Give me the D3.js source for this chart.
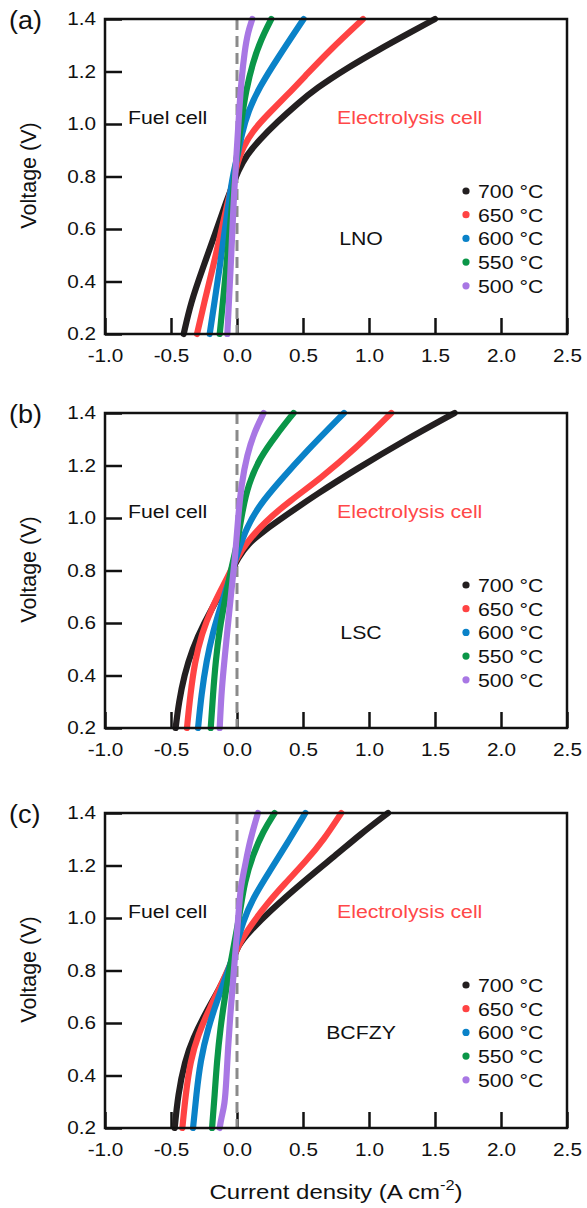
<!DOCTYPE html>
<html>
<head>
<meta charset="utf-8">
<script src="https://cdn.jsdelivr.net/npm/d3@7"></script>
<style>
  body { margin: 0; background: #fff; }
  text { font-family: "Liberation Sans", Arial, Helvetica, sans-serif; fill: #111; }
</style>
</head>
<body>
<svg id="chart" width="587" height="1208"></svg>
<script>
// Temperatures and their colours (legend order)
const temperatures = ["700 °C", "650 °C", "600 °C", "550 °C", "500 °C"];
const seriesColors = ["#231f20", "#ff4343", "#0a82c8", "#0a9648", "#a877e4"];

// Axis ticks
const xTicks = [-1.0, -0.5, 0.0, 0.5, 1.0, 1.5, 2.0, 2.5];
const yTicks = [0.2, 0.4, 0.6, 0.8, 1.0, 1.2, 1.4];

const panelLetters = ["(a)", "(b)", "(c)"];
const materials = ["LNO", "LSC", "BCFZY"];

// I–V curves: [current density (A cm^-2), voltage (V)]
// (a) LNO
const lno700 = [[-0.404,0.2],[-0.35,0.32],[-0.26,0.45],[-0.16,0.59],[-0.085,0.70],[-0.03,0.77],[0.008,0.82],[0.07,0.88],[0.17,0.94],[0.31,1.01],[0.455,1.076],[0.60,1.136],[0.83,1.212],[1.07,1.282],[1.325,1.352],[1.50,1.4]];
const lno650 = [[-0.303,0.2],[-0.245,0.327],[-0.182,0.454],[-0.119,0.594],[-0.068,0.708],[-0.03,0.784],[0.008,0.86],[0.045,0.911],[0.12,0.975],[0.24,1.04],[0.38,1.11],[0.53,1.19],[0.70,1.28],[0.955,1.4]];
const lno600 = [[-0.207,0.2],[-0.169,0.327],[-0.131,0.454],[-0.093,0.594],[-0.061,0.708],[-0.03,0.81],[0.008,0.886],[0.035,0.96],[0.085,1.05],[0.17,1.14],[0.30,1.245],[0.505,1.4]];
const lno550 = [[-0.131,0.2],[-0.106,0.327],[-0.081,0.454],[-0.056,0.594],[-0.035,0.708],[-0.015,0.822],[0.008,0.911],[0.033,1.013],[0.068,1.127],[0.12,1.235],[0.18,1.32],[0.26,1.4]];
const lno500 = [[-0.073,0.2],[-0.061,0.327],[-0.048,0.454],[-0.035,0.594],[-0.025,0.708],[-0.010,0.835],[0.003,0.937],[0.015,1.038],[0.033,1.165],[0.058,1.279],[0.083,1.35],[0.116,1.4]];
// (b) LSC
const lsc700 = [[-0.465,0.2],[-0.44,0.30],[-0.40,0.40],[-0.34,0.50],[-0.25,0.60],[-0.14,0.70],[-0.05,0.79],[0.01,0.85],[0.08,0.90],[0.20,0.95],[0.37,1.01],[0.60,1.09],[0.90,1.185],[1.25,1.29],[1.649,1.4]];
const lsc650 = [[-0.379,0.2],[-0.354,0.327],[-0.32,0.45],[-0.27,0.556],[-0.185,0.665],[-0.085,0.76],[-0.005,0.845],[0.07,0.905],[0.21,0.985],[0.40,1.065],[0.63,1.15],[0.90,1.265],[1.169,1.4]];
const lsc600 = [[-0.295,0.2],[-0.270,0.327],[-0.232,0.454],[-0.182,0.568],[-0.119,0.670],[-0.056,0.771],[0.008,0.873],[0.071,0.962],[0.172,1.051],[0.323,1.140],[0.525,1.254],[0.811,1.4]];
const lsc550 = [[-0.199,0.2],[-0.182,0.327],[-0.162,0.454],[-0.131,0.581],[-0.093,0.683],[-0.043,0.810],[0.000,0.898],[0.040,1.025],[0.085,1.127],[0.172,1.229],[0.298,1.317],[0.429,1.4]];
const lsc500 = [[-0.131,0.2],[-0.119,0.327],[-0.101,0.429],[-0.081,0.530],[-0.061,0.632],[-0.035,0.759],[-0.010,0.873],[0.008,1.000],[0.033,1.127],[0.076,1.241],[0.134,1.330],[0.202,1.4]];
// (c) BCFZY
const bcfzy700 = [[-0.472,0.2],[-0.447,0.327],[-0.396,0.454],[-0.333,0.543],[-0.232,0.644],[-0.131,0.733],[-0.043,0.822],[0.008,0.898],[0.096,0.949],[0.247,1.025],[0.475,1.127],[0.753,1.241],[0.929,1.317],[1.144,1.4]];
const bcfzy650 = [[-0.414,0.2],[-0.389,0.327],[-0.354,0.454],[-0.295,0.556],[-0.207,0.657],[-0.106,0.759],[-0.03,0.848],[0.02,0.905],[0.11,0.975],[0.22,1.05],[0.36,1.13],[0.52,1.215],[0.66,1.30],[0.79,1.4]];
const bcfzy600 = [[-0.333,0.2],[-0.308,0.327],[-0.278,0.454],[-0.220,0.581],[-0.144,0.695],[-0.068,0.797],[-0.010,0.886],[0.045,0.987],[0.121,1.076],[0.247,1.178],[0.374,1.279],[0.518,1.4]];
const bcfzy550 = [[-0.189,0.2],[-0.169,0.327],[-0.152,0.454],[-0.126,0.581],[-0.093,0.695],[-0.056,0.810],[-0.018,0.911],[0.020,1.013],[0.058,1.140],[0.121,1.241],[0.197,1.330],[0.285,1.4]];
const bcfzy500 = [[-0.131,0.2],[-0.119,0.238],[-0.093,0.289],[-0.081,0.378],[-0.068,0.505],[-0.051,0.632],[-0.030,0.759],[-0.010,0.886],[0.008,0.987],[0.025,1.114],[0.058,1.190],[0.096,1.292],[0.159,1.4]];

const panelCurves = [
  [lno700, lno650, lno600, lno550, lno500],
  [lsc700, lsc650, lsc600, lsc550, lsc500],
  [bcfzy700, bcfzy650, bcfzy600, bcfzy550, bcfzy500]
];

// Layout
const plotLeft = 105, plotRight = 567, plotHeight = 315;
const panelTops = [19, 413, 813];
const textStretch = 1.12;   // slightly wide lettering

const svg = d3.select("#chart");
const x = d3.scaleLinear().domain([-1.0, 2.5]).range([plotLeft, plotRight]);
const fmt = d => d.toFixed(1);

// Horizontal label with a little horizontal stretch
function label(parent, px, py, str, size, opts = {}) {
  const t = parent.append("text")
    .attr("transform", `translate(${px},${py}) scale(${opts.sx || textStretch},1)`)
    .attr("font-size", size)
    .attr("text-anchor", opts.anchor || "start")
    .text(str);
  if (opts.color) t.style("fill", opts.color);
  return t;
}

panelCurves.forEach((curves, p) => {
  const top = panelTops[p];
  const y = d3.scaleLinear().domain([0.2, 1.4]).range([top + plotHeight, top]);
  const g = svg.append("g");

  // Bottom axis with inward ticks
  const xAxis = d3.axisBottom(x).tickValues(xTicks).tickFormat(fmt)
    .tickSizeInner(-16).tickSizeOuter(0).tickPadding(15);
  const gx = g.append("g").attr("transform", `translate(0,${top + plotHeight})`).call(xAxis);
  gx.select(".domain").remove();
  gx.selectAll(".tick line").attr("stroke", "#111").attr("stroke-width", 2.5);
  gx.selectAll(".tick text").attr("font-size", 18.5).attr("fill", "#111")
    .attr("font-family", "Liberation Sans, Arial, sans-serif")
    .attr("transform", `scale(${textStretch},1)`);

  // Left axis with inward ticks
  const yAxis = d3.axisLeft(y).tickValues(yTicks).tickFormat(fmt)
    .tickSizeInner(-17).tickSizeOuter(0).tickPadding(8);
  const gy = g.append("g").attr("transform", `translate(${plotLeft},0)`).call(yAxis);
  gy.select(".domain").remove();
  gy.selectAll(".tick line").attr("stroke", "#111").attr("stroke-width", 2.5);
  gy.selectAll(".tick text").attr("font-size", 18.5).attr("fill", "#111")
    .attr("font-family", "Liberation Sans, Arial, sans-serif")
    .attr("transform", `scale(${textStretch},1)`);

  // Zero-current reference line
  g.append("line")
    .attr("x1", x(0)).attr("x2", x(0))
    .attr("y1", y(1.4)).attr("y2", y(0.2))
    .attr("stroke", "#8a8a8a").attr("stroke-width", 3)
    .attr("stroke-dasharray", "11,6");

  // Curves, hottest first so the coolest sits on top
  const line = d3.line().x(d => x(d[0])).y(d => y(d[1])).curve(d3.curveBasis);
  curves.forEach((pts, i) => {
    g.append("path").datum(pts)
      .attr("d", line)
      .attr("fill", "none")
      .attr("stroke", seriesColors[i])
      .attr("stroke-width", 6.2)
      .attr("stroke-linecap", "round")
      .attr("stroke-linejoin", "round");
  });

  // Frame
  g.append("rect")
    .attr("x", plotLeft).attr("y", top)
    .attr("width", plotRight - plotLeft).attr("height", plotHeight)
    .attr("fill", "none").attr("stroke", "#111").attr("stroke-width", 2.5);

  // Region annotations
  label(g, 128, y(1.0) - 0.5, "Fuel cell", 19);
  label(g, 337, y(1.0) - 0.5, "Electrolysis cell", 19, { color: "#ff4848" });

  // Material label
  label(g, 361, top + 226, materials[p], 19, { anchor: "middle" });

  // Legend
  temperatures.forEach((t, i) => {
    const ly = top + 172 + i * 23.7;
    g.append("circle").attr("cx", 466).attr("cy", ly).attr("r", 3.6).attr("fill", seriesColors[i]);
    label(g, 478, ly + 7, t, 19);
  });

  // Panel letter
  label(g, 9, top + 10, panelLetters[p], 25, { sx: 1.08 });

  // Y-axis title
  g.append("text")
    .attr("transform", `translate(36,${top + plotHeight / 2 - 1}) rotate(-90)`)
    .attr("text-anchor", "middle").attr("font-size", 21.5).text("Voltage (V)");
});

// X-axis title with superscript
const xt = label(svg, 336, 1199, "", 20.5, { anchor: "middle", sx: 1.17 });
xt.append("tspan").text("Current density (A cm");
xt.append("tspan").attr("dy", -9).attr("font-size", 14).text("-2");
xt.append("tspan").attr("dy", 9).text(")");
</script>
</body>
</html>
